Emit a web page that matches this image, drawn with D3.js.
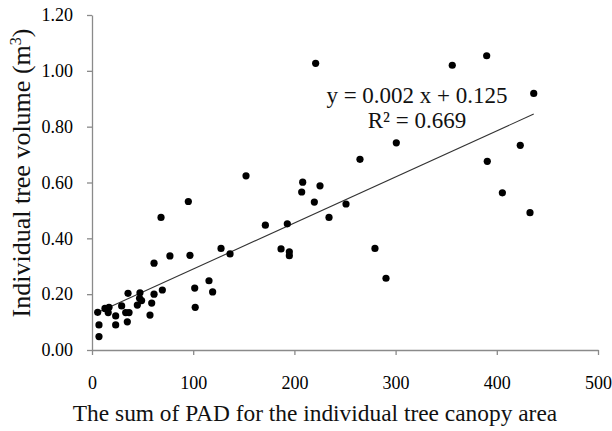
<!DOCTYPE html>
<html>
<head>
<meta charset="utf-8">
<script src="https://cdn.jsdelivr.net/npm/d3@7"></script>
<style>
  body { margin: 0; background: #fff; }
</style>
</head>
<body>
<div id="chart"></div>
<script>
// values
const padSum = [6.9, 6.9, 5.6, 12.8, 16.8, 16.0, 23.4, 23.4, 29.3, 33.3, 36.6, 34.9, 35.6, 44.8,
  47.4, 47.0, 49.0, 57.3, 59.0, 61.3, 69.5, 61.3, 68.2, 77.0, 95.2, 96.8, 101.5, 102.0, 115.6,
  119.2, 127.5, 136.4, 152.2, 171.3, 186.8, 193.0, 195.0, 195.0, 208.2, 207.2, 225.3, 219.7,
  234.2, 251.0, 264.8, 279.6, 290.5, 221.0, 356.0, 300.7, 390.0, 436.5, 423.2, 390.6, 405.5, 432.8]
const treeVolume = [0.048, 0.090, 0.135, 0.149, 0.153, 0.134, 0.122, 0.090, 0.158, 0.134, 0.134,
  0.101, 0.203, 0.161, 0.205, 0.185, 0.177, 0.125, 0.168, 0.200, 0.215, 0.311, 0.475, 0.337,
  0.532, 0.339, 0.222, 0.153, 0.248, 0.208, 0.364, 0.344, 0.624, 0.447, 0.362, 0.452, 0.352,
  0.338, 0.601, 0.566, 0.588, 0.530, 0.475, 0.523, 0.683, 0.364, 0.257, 1.027, 1.020, 0.742,
  1.054, 0.919, 0.733, 0.676, 0.563, 0.492]

const xTicks = [0, 100, 200, 300, 400, 500]
const yTicks = [0, 0.2, 0.4, 0.6, 0.8, 1.0, 1.2]

// trend line as drawn in the picture (label rounds it to 0.002)
const fitSlope = 0.00165
const fitIntercept = 0.125
const equationText = "y = 0.002 x + 0.125"
const r2Text = "R\u00B2 = 0.669"

const width = 612
const height = 431
const serif = '"Liberation Serif", "Times New Roman", serif'

const svg = d3.select("#chart")
  .append("svg")
  .attr("width", width)
  .attr("height", height)

const x = d3.scaleLinear()
  .domain([0, 500])
  .range([92, 598])

const y = d3.scaleLinear()
  .domain([0, 1.2])
  .range([350, 15])

const axisColor = "#8a8a8a"

const xAxis = svg.append("g")
  .attr("transform", "translate(0," + y(0) + ")")
  .call(d3.axisBottom(x).tickValues(xTicks).tickSize(5).tickSizeOuter(0).tickPadding(21)
    .tickFormat(d3.format("d")))

const yAxis = svg.append("g")
  .attr("transform", "translate(" + x(0) + ",0)")
  .call(d3.axisLeft(y).tickValues(yTicks).tickSize(5).tickSizeOuter(0).tickPadding(14)
    .tickFormat(d3.format(".2f")))

svg.selectAll(".tick text")
  .attr("fill", "#000")
  .attr("font-family", serif)
  .style("font-family", serif)
  .style("font-size", "18px")

svg.selectAll(".domain, .tick line")
  .attr("stroke", axisColor)
  .attr("stroke-width", 1.3)

// trend line
const xExtent = d3.extent(padSum)
svg.append("path")
  .datum(xExtent)
  .attr("fill", "none")
  .attr("stroke", "#333")
  .attr("stroke-width", 1.1)
  .attr("d", d3.line()
    .x(d => x(d))
    .y(d => y(fitSlope * d + fitIntercept)))

// points
svg.append("g")
  .selectAll("circle")
  .data(padSum.map((d, i) => [d, treeVolume[i]]))
  .enter()
  .append("circle")
  .attr("cx", d => x(d[0]))
  .attr("cy", d => y(d[1]))
  .attr("r", 3.6)
  .attr("fill", "#000")

// equation
const label = (tx, ty, size, txt) => svg.append("text")
  .attr("x", tx)
  .attr("y", ty)
  .attr("text-anchor", "middle")
  .attr("fill", "#111")
  .style("font-family", serif)
  .style("font-size", size)
  .text(txt)

label(417, 103, "23px", equationText)
label(417, 128, "23px", r2Text)

// axis titles
label(315, 421, "23.4px", "The sum of PAD for the individual tree canopy area")

const yTitle = svg.append("text")
  .attr("transform", "translate(30,173) rotate(-90)")
  .attr("text-anchor", "middle")
  .attr("fill", "#111")
  .style("font-family", serif)
  .style("font-size", "26px")
yTitle.append("tspan").text("Individual tree volume (m")
yTitle.append("tspan").attr("dy", -9).style("font-size", "16px").text("3")
yTitle.append("tspan").attr("dy", 9).text(")")
</script>
</body>
</html>
